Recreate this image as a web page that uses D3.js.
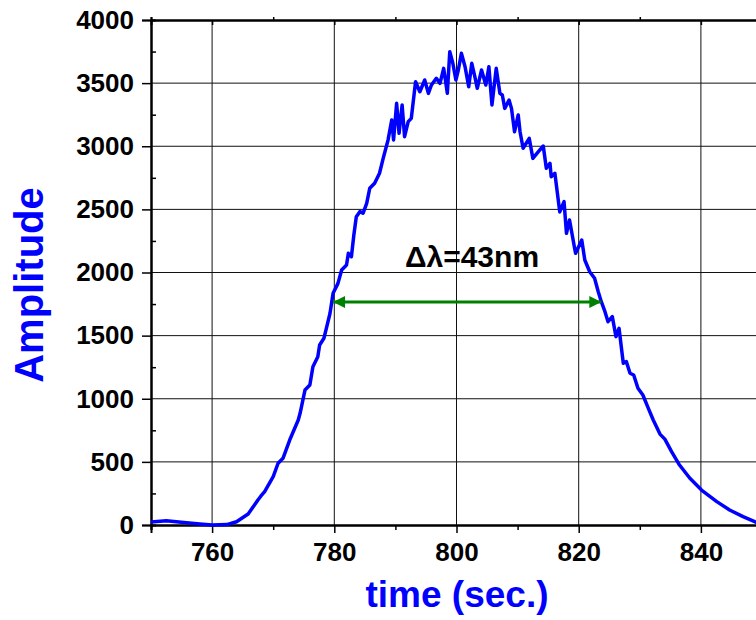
<!DOCTYPE html>
<html>
<head>
<meta charset="utf-8">
<script src="https://cdn.jsdelivr.net/npm/d3@7"></script>
<style>
  body { margin: 0; background: #fff; overflow: hidden; }
  svg { display: block; font-family: "Liberation Sans", Arial, sans-serif; font-weight: bold; }
</style>
</head>
<body>
<script>
// spectrum
let times = [750, 752.5, 755.8, 758, 760, 762.4, 764, 765.9, 767.5, 768, 768.6, 770, 770.8, 771.6, 772.7,
  774.1, 774.4, 775.2, 776, 776.5, 777.3, 777.6, 778.3, 778.7, 779.3, 779.8, 780.6, 781.2, 782, 782.3,
  782.8, 783.2, 783.6, 784.2, 784.7, 785.3, 785.8, 786.6, 787.4, 788, 788.8, 789.4, 789.7, 790.2, 790.6,
  791.1, 791.5, 792.1, 792.6, 793.3, 794, 794.8, 795.4, 795.9, 796.7, 797.3, 797.9, 798.5, 798.9, 799.4,
  799.9, 800.3, 800.8, 801.4, 802, 802.5, 803, 803.4, 804.1, 804.8, 805.3, 805.8, 806.5, 807.1, 807.5,
  807.9, 808.6, 809, 809.5, 810.1, 810.4, 810.9, 811.9, 812.5, 813.4, 814.2, 814.7, 815.3, 815.5, 816.1,
  816.9, 817.6, 818, 818.5, 819.3, 819.5, 820.5, 821, 821.8, 822.6, 823.2, 823.7, 824.3, 824.8, 825.5,
  826.1, 826.6, 827.3, 827.8, 828.4, 829, 829.7, 830.5, 831.4, 832.2, 833.3, 834.1, 835.2, 836.5, 838.2,
  840.1, 842.6, 844.7, 846.9, 848.8, 850];
let amps = [24, 34, 18, 8, 0, 3, 26, 87, 198, 230, 264, 383, 489, 528, 673,
  832, 885, 1069, 1109, 1254, 1333, 1426, 1479, 1558, 1677, 1835, 1914, 2020, 2059, 2152,
  2125, 2297, 2442, 2482, 2469, 2548, 2667, 2707, 2786, 2904, 3050, 3208, 3050, 3340, 3103,
  3327, 3076, 3195, 3221, 3511, 3432, 3525, 3419, 3485, 3538, 3498, 3617, 3419, 3749, 3657,
  3525, 3604, 3736, 3630, 3472, 3657, 3551, 3459, 3604, 3485, 3630, 3327, 3617, 3419, 3406,
  3300, 3366, 3300, 3115, 3248, 3115, 2984, 3063, 2904, 2957, 3002, 2825, 2865, 2759, 2786,
  2480, 2561, 2310, 2416, 2200, 2152, 2257, 2099, 2006, 1954, 1848, 1769, 1690, 1610, 1650,
  1492, 1558, 1281, 1294, 1202, 1188, 1083, 1030, 924, 832, 720, 680, 581, 475, 370,
  277, 185, 119, 66, 26, 10];

let xTicks = [760, 780, 800, 820, 840];
let xMinor = [750, 770, 790, 810, 830, 850];
let yTicks = [0, 500, 1000, 1500, 2000, 2500, 3000, 3500, 4000];
let yMinor = [250, 750, 1250, 1750, 2250, 2750, 3250, 3750];

let fwhm = [779.8, 823.7];
let fwhmLevel = 1766;
let fwhmLabel = "\u0394\u03bb=43nm";

let width = 756, height = 620;
let margin = { left: 151, top: 20 };

let x = d3.scaleLinear().domain([750, 850]).range([margin.left, 762]);
let y = d3.scaleLinear().domain([0, 4000]).range([525, margin.top]);

let svg = d3.select("body").append("svg").attr("width", width).attr("height", height);

svg.append("defs").append("clipPath").attr("id", "plot")
  .append("rect").attr("x", x(750)).attr("y", y(4000) - 2).attr("width", x(850) - x(750)).attr("height", y(0) - y(4000) + 4);

// grid
let grid = svg.append("g").attr("stroke", "#111").attr("stroke-width", 1);
grid.selectAll(".vg").data(xTicks).join("line")
  .attr("x1", (d) => x(d)).attr("x2", (d) => x(d)).attr("y1", y(0)).attr("y2", y(4000));
grid.selectAll(".hg").data(yTicks.slice(1, -1)).join("line")
  .attr("x1", x(750)).attr("x2", x(850)).attr("y1", (d) => y(d)).attr("y2", (d) => y(d));

// axes
let fmt = d3.format("d");
let xAxis = d3.axisBottom(x).tickValues(xTicks).tickSize(8).tickPadding(10).tickFormat(fmt);
let xAxisMinor = d3.axisBottom(x).tickValues(xMinor).tickSize(5).tickFormat("");
let xTop = d3.axisTop(x).tickValues(xTicks).tickSize(-5).tickFormat("");
let xTopMinor = d3.axisTop(x).tickValues(xMinor).tickSize(3).tickFormat("");
let yAxis = d3.axisLeft(y).tickValues(yTicks).tickSize(9).tickPadding(8).tickFormat(fmt);
let yAxisMinor = d3.axisLeft(y).tickValues(yMinor).tickSize(-5).tickFormat("");

svg.append("g").attr("class", "axis").attr("transform", `translate(0,${y(0)})`).call(xAxisMinor);
svg.append("g").attr("class", "axis").attr("transform", `translate(0,${y(0)})`).call(xAxis);
svg.append("g").attr("class", "axis").attr("transform", `translate(0,${y(4000)})`).call(xTopMinor);
svg.append("g").attr("class", "axis").attr("transform", `translate(0,${y(4000)})`).call(xTop);
svg.append("g").attr("class", "axis").attr("transform", `translate(${x(750)},0)`).call(yAxisMinor);
svg.append("g").attr("class", "axis").attr("transform", `translate(${x(750)},0)`).call(yAxis);

svg.selectAll(".axis path").attr("stroke", "#000").attr("stroke-width", 2);
svg.selectAll(".axis line").attr("stroke", "#000").attr("stroke-width", 1.5);
svg.selectAll(".axis text").attr("font-size", 26).attr("font-weight", "bold")
  .attr("font-family", "'Liberation Sans', Arial, sans-serif").attr("fill", "#000");

// spectrum
let line = d3.line().x((d, i) => x(times[i])).y((d) => y(d));
svg.append("path").attr("clip-path", "url(#plot)")
  .attr("d", line(amps))
  .attr("fill", "none").attr("stroke", "#0000ff").attr("stroke-width", 3.5).attr("stroke-linejoin", "round");

// FWHM arrow
let defs = svg.select("defs");
["start", "end"].forEach((k) => {
  defs.append("marker").attr("id", "arr-" + k)
    .attr("viewBox", "0 0 10 10").attr("refX", k === "end" ? 10 : 0).attr("refY", 5)
    .attr("markerWidth", 6).attr("markerHeight", 4).attr("markerUnits", "strokeWidth").attr("orient", "auto")
    .append("path").attr("d", k === "end" ? "M0,0 L10,5 L0,10 Z" : "M10,0 L0,5 L10,10 Z").attr("fill", "#008000");
});
svg.append("line")
  .attr("x1", x(fwhm[0])).attr("x2", x(fwhm[1])).attr("y1", y(fwhmLevel)).attr("y2", y(fwhmLevel))
  .attr("stroke", "#008000").attr("stroke-width", 3)
  .attr("marker-start", "url(#arr-start)").attr("marker-end", "url(#arr-end)");

svg.append("text").attr("x", 472).attr("y", 267).attr("text-anchor", "middle")
  .attr("font-size", 30).attr("fill", "#000").text(fwhmLabel);

// axis titles
svg.append("text").attr("x", 457).attr("y", 607).attr("text-anchor", "middle")
  .attr("font-size", 37).attr("fill", "#0000ff").text("time (sec.)");
svg.append("text").attr("transform", "translate(43,285) rotate(-90)").attr("text-anchor", "middle")
  .attr("font-size", 40).attr("fill", "#0000ff").text("Amplitude");
</script>
</body>
</html>
